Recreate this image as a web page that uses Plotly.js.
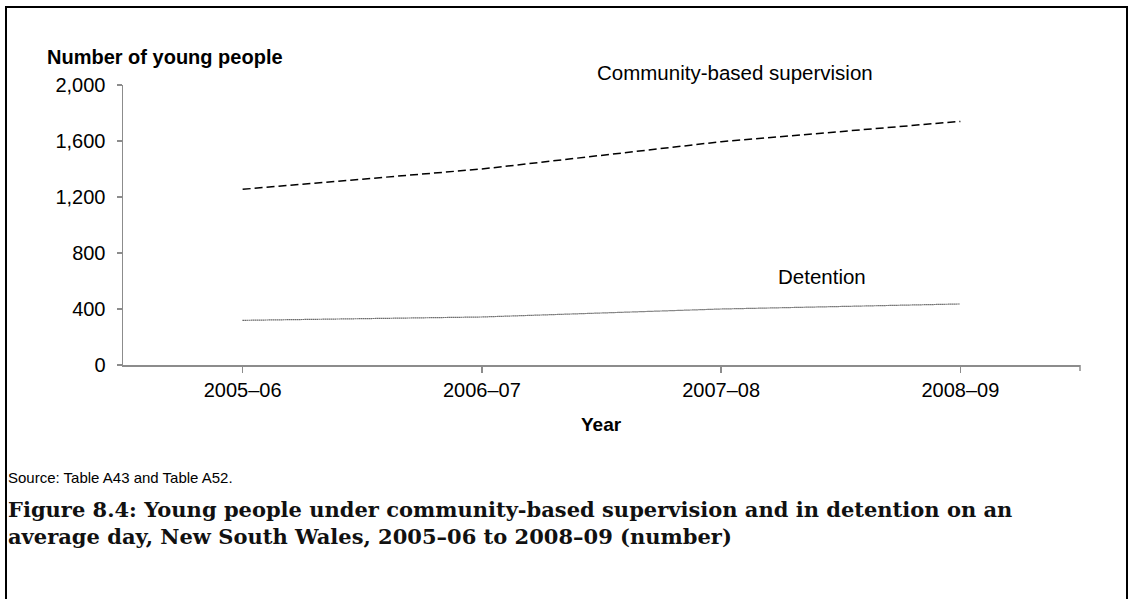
<!DOCTYPE html>
<html>
<head>
<meta charset="utf-8">
<script src="https://cdn.plot.ly/plotly-3.0.1.min.js"></script>
<style>
  html, body { margin: 0; padding: 0; background: #fff; }
  #chart { width: 1131px; height: 599px; }
</style>
</head>
<body>
<div id="chart"></div>
<script>
const years = ["2005–06", "2006–07", "2007–08", "2008–09"];
const community = [1255, 1400, 1595, 1740];
const detention = [319, 343, 400, 436];
const yTicks = [0, 400, 800, 1200, 1600, 2000];
const seriesLabels = ["Community-based supervision", "Detention"];

const axisGrey = "#8c8c8c";
const sans = "Liberation Sans, Arial, sans-serif";

const traces = [
  {
    x: years, y: community, type: "scatter", mode: "lines",
    name: seriesLabels[0],
    line: { color: "#000000", width: 1.5, dash: "8px,4px" },
    hoverinfo: "x+y"
  },
  {
    x: years, y: detention, type: "scatter", mode: "lines",
    name: seriesLabels[1],
    line: { color: "#111111", width: 1.2, dash: "1px,1px" },
    hoverinfo: "x+y"
  }
];

const layout = {
  width: 1131, height: 599,
  margin: { l: 123, r: 51, t: 85, b: 234 },
  paper_bgcolor: "#ffffff",
  plot_bgcolor: "#ffffff",
  showlegend: false,
  font: { family: sans, color: "#000000", size: 20 },
  xaxis: {
    type: "category",
    range: [-0.5, 3.5],
    showgrid: false, zeroline: false,
    showline: true, linecolor: axisGrey, linewidth: 1.5,
    ticks: "outside", ticklen: 6, tickcolor: axisGrey, tickwidth: 1.5,
    tickfont: { family: sans, size: 20, color: "#000" },
    fixedrange: true
  },
  yaxis: {
    range: [0, 2000],
    tickmode: "array", tickvals: yTicks,
    tickformat: ",d",
    showgrid: false, zeroline: false,
    showline: true, linecolor: axisGrey, linewidth: 1.5,
    ticks: "outside", ticklen: 5, tickcolor: axisGrey, tickwidth: 1.5,
    tickfont: { family: sans, size: 20, color: "#000" },
    ticklabelstandoff: 7,
    fixedrange: true
  },
  shapes: [
    { type: "line", xref: "paper", yref: "paper", x0: 1, x1: 1, y0: 0, y1: -6/280,
      line: { color: axisGrey, width: 1.5 } },
    { type: "rect", xref: "paper", yref: "paper",
      x0: (6 - 123) / 957, x1: (1127 - 123) / 957,
      y0: (365 - 620) / 280, y1: (365 - 7) / 280,
      line: { color: "#000000", width: 2 }, fillcolor: "rgba(0,0,0,0)" }
  ],
  annotations: [
    { text: "<b>Number of young people</b>", xref: "paper", yref: "paper",
      x: (45 - 123) / 957, y: (365 - 57) / 280, xanchor: "left", yanchor: "middle",
      showarrow: false, font: { family: sans, size: 20, color: "#000" } },
    { text: seriesLabels[0], xref: "paper", yref: "paper",
      x: (735 - 123) / 957, y: (365 - 73) / 280, xanchor: "center", yanchor: "middle",
      showarrow: false, font: { family: sans, size: 20.5, color: "#000" } },
    { text: seriesLabels[1], xref: "paper", yref: "paper",
      x: (822 - 123) / 957, y: (365 - 276) / 280, xanchor: "center", yanchor: "middle",
      showarrow: false, font: { family: sans, size: 20.5, color: "#000" } },
    { text: "<b>Year</b>", xref: "paper", yref: "paper",
      x: 0.5, y: (365 - 424) / 280, xanchor: "center", yanchor: "middle",
      showarrow: false, font: { family: sans, size: 19, color: "#000" } },
    { text: "Source: Table A43 and Table A52.", xref: "paper", yref: "paper",
      x: (6 - 123) / 957, y: (365 - 477) / 280, xanchor: "left", yanchor: "middle",
      showarrow: false, font: { family: sans, size: 15, color: "#000" } },
    { text: "<b>Figure 8.4: Young people under community-based supervision and in detention on an<br>average day, New South Wales, 2005–06 to 2008–09 (number)</b>",
      xref: "paper", yref: "paper", align: "left",
      x: (6 - 123) / 957, y: (365 - 495) / 280, xanchor: "left", yanchor: "top",
      showarrow: false, font: { family: "DejaVu Serif, serif", size: 21, color: "#111" } }
  ]
};

Plotly.newPlot("chart", traces, layout, { displayModeBar: false, staticPlot: true });
</script>
</body>
</html>
